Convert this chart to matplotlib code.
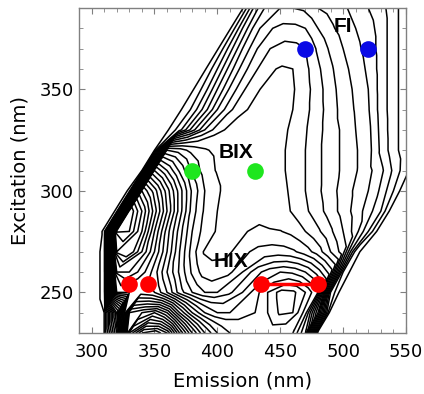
import numpy as np
import matplotlib
matplotlib.use("Agg")
import matplotlib.pyplot as plt
from matplotlib.ticker import MultipleLocator

# Data grid: excitation rows (nm) and emission offset columns (emission - excitation, nm)
excitation = [230, 240, 250, 260, 270, 280, 290, 300, 310, 320, 330, 340, 350,
              360, 370, 380, 390]
em_offset = [20, 30, 40, 50, 60, 70, 80, 90, 100, 110, 120, 130, 140, 150, 160,
             170, 180, 190, 200, 210, 220, 230, 240, 250]

# Fluorescence intensity (contour-level units), one row per excitation wavelength
row_230 = [0, 0, 0, 0, 0, 0, 1, 8, 30, 34, 35, 33, 28, 24, 21, 19, 18, 17.5, 17.2, 17.2, 17.2, 17, 14, 0]
row_240 = [0, 0, 0, 0, 0, 1, 10, 26, 27, 28, 26, 22, 19, 17, 16, 16, 16.5, 17, 18, 19.2, 19.0, 16.5, 10, 0]
row_250 = [0, 0, 0, 0, 1.5, 20, 20, 20.5, 20, 18, 15.5, 14, 13, 13, 13.8, 15, 16.5, 18, 19.4, 19.3, 18, 16, 3, 0]
row_260 = [0, 0, 0, 1.5, 23, 23, 21.5, 19.5, 17, 14.8, 12.8, 11.4, 11.2, 11.8, 13, 14.5, 15.5, 16, 15.8, 15, 13.5, 11.5, 2, 0]
row_270 = [0, 0, 1.5, 27, 27, 24, 21, 18, 15, 12.5, 10.8, 10.7, 10.9, 11.6, 12.3, 12.5, 12.5, 12.2, 11.5, 10.5, 9, 7.5, 1.5, 0]
row_280 = [0, 1.2, 30, 29, 26, 22, 18.5, 15.5, 13, 11.5, 10.9, 10.8, 10.9, 11.15, 11.1, 11.05, 10.7, 10, 9.2, 8.2, 7, 5.5, 3, 0]
row_290 = [0, 1.2, 30, 27, 23.5, 20, 16.5, 13.5, 11.8, 11.0, 10.8, 10.7, 10.8, 10.7, 10.4, 9.9, 9.2, 8.4, 7.5, 6.6, 5.6, 4.5, 3.0, 0]
row_300 = [0, 1.2, 25, 22.5, 19.5, 16.5, 13.8, 12, 11.1, 10.7, 10.6, 10.6, 10.5, 10.3, 9.8, 9.0, 8.2, 7.4, 6.6, 5.8, 5.0, 3.8, 2.0, 0]
row_310 = [0, 1.0, 19, 17, 14.8, 12.8, 11.5, 10.9, 10.7, 10.6, 10.55, 10.5, 10.2, 9.7, 9.0, 8.2, 7.5, 6.8, 6.1, 5.3, 4.3, 2.8, 1.3, 0]
row_320 = [0, 1.0, 13, 12.5, 11.6, 11.1, 10.8, 10.6, 10.6, 10.6, 10.5, 10.2, 9.7, 9.0, 8.2, 7.5, 6.8, 6.1, 5.4, 3.8, 2.4, 1.4, 0.5, 0]
row_330 = [0, 0.8, 2.6, 5.5, 8.0, 9.6, 10.3, 10.5, 10.6, 10.6, 10.3, 9.8, 9.1, 8.3, 7.5, 6.8, 6.0, 5.3, 3.7, 2.4, 1.4, 0.5, 0, 0]
row_340 = [0, 0.8, 2.2, 4.5, 7.0, 8.8, 9.8, 10.3, 10.5, 10.4, 10.0, 9.3, 8.4, 7.5, 6.6, 5.9, 5.1, 3.6, 2.4, 1.4, 0.5, 0, 0, 0]
row_350 = [0, 0.8, 2.5, 5.0, 7.2, 8.8, 9.8, 10.3, 10.4, 10.1, 9.4, 8.4, 7.4, 6.5, 5.8, 5.0, 3.6, 2.4, 1.4, 0.5, 0, 0, 0, 0]
row_360 = [0, 0.8, 3.0, 5.5, 7.5, 8.8, 9.8, 10.1, 10.0, 9.3, 8.2, 7.2, 6.3, 5.6, 4.8, 3.6, 2.4, 1.4, 0.5, 0, 0, 0, 0, 0]
row_370 = [0, 0.8, 3.5, 6.0, 7.8, 8.9, 9.4, 9.4, 9.0, 7.8, 6.8, 6.0, 5.3, 4.6, 3.6, 2.4, 1.4, 0.5, 0, 0, 0, 0, 0, 0]
row_380 = [0, 0.8, 4.0, 6.5, 7.8, 8.3, 8.3, 8.0, 7.0, 6.2, 5.6, 5.0, 4.4, 3.6, 2.4, 1.4, 0.5, 0, 0, 0, 0, 0, 0, 0]
row_390 = [0, 0.8, 4.5, 6.5, 7.0, 7.0, 6.8, 6.0, 5.6, 5.2, 4.6, 4.0, 3.4, 2.4, 1.4, 0.5, 0, 0, 0, 0, 0, 0, 0, 0]

intensity = [row_230, row_240, row_250, row_260, row_270, row_280, row_290, row_300,
             row_310, row_320, row_330, row_340, row_350, row_360, row_370, row_380,
             row_390]
levels = list(range(1, 36))

# Index marker positions (emission, excitation)
fi_em = [470, 520]
fi_ex = [370, 370]
bix_em = [380, 430]
bix_ex = [310, 310]
hix_em = [330, 345, 435, 480]
hix_ex = [254, 254, 254, 254]
hix_line_em = [435, 480]
hix_line_ex = [254, 254]

labels = ["FI", "BIX", "HIX"]
label_em = [500, 415, 411]
label_ex = [381, 319, 265]

EX, OFF = np.meshgrid(excitation, em_offset, indexing="ij")
EM = EX + OFF

fig = plt.figure(figsize=(4.24, 3.94), dpi=100)
ax = fig.add_axes([79 / 424, 1 - 333 / 394, 327 / 424, 325 / 394])

ax.contour(EM, EX, np.array(intensity), levels=levels,
           colors="black", linewidths=1.1)

ax.plot(hix_line_em, hix_line_ex, color="#ff0000", lw=2.5, zorder=4)
ax.plot(fi_em, fi_ex, "o", ms=12, color="#0a0ae6", mec="none", zorder=5)
ax.plot(bix_em, bix_ex, "o", ms=12, color="#1ee61e", mec="none", zorder=5)
ax.plot(hix_em, hix_ex, "o", ms=12, color="#ff0000", mec="none", zorder=5)

for t, x, y in zip(labels, label_em, label_ex):
    ax.text(x, y, t, fontsize=15, fontweight="bold", family="Liberation Sans",
            ha="center", va="center", zorder=6)

ax.set_xlim(290, 550)
ax.set_ylim(230, 390)
ax.xaxis.set_major_locator(MultipleLocator(50))
ax.xaxis.set_minor_locator(MultipleLocator(10))
ax.yaxis.set_major_locator(MultipleLocator(50))
ax.yaxis.set_minor_locator(MultipleLocator(10))

frame = "#808080"
for s in ax.spines.values():
    s.set_color(frame)
    s.set_linewidth(1.0)
ax.tick_params(which="both", direction="in", top=True, right=True, color=frame)
ax.tick_params(which="major", length=4)
ax.tick_params(which="minor", length=3)
ax.tick_params(axis="x", which="major", labelsize=13, pad=7)
ax.tick_params(axis="y", which="major", labelsize=13, pad=4)
for lab in ax.get_xticklabels() + ax.get_yticklabels():
    lab.set_family("DejaVu Sans")

ax.set_xlabel("Emission (nm)", fontsize=14, family="DejaVu Sans", labelpad=8)
ax.set_ylabel("Excitation (nm)", fontsize=14, family="DejaVu Sans", labelpad=7)

fig.savefig("out.png", dpi=100)
